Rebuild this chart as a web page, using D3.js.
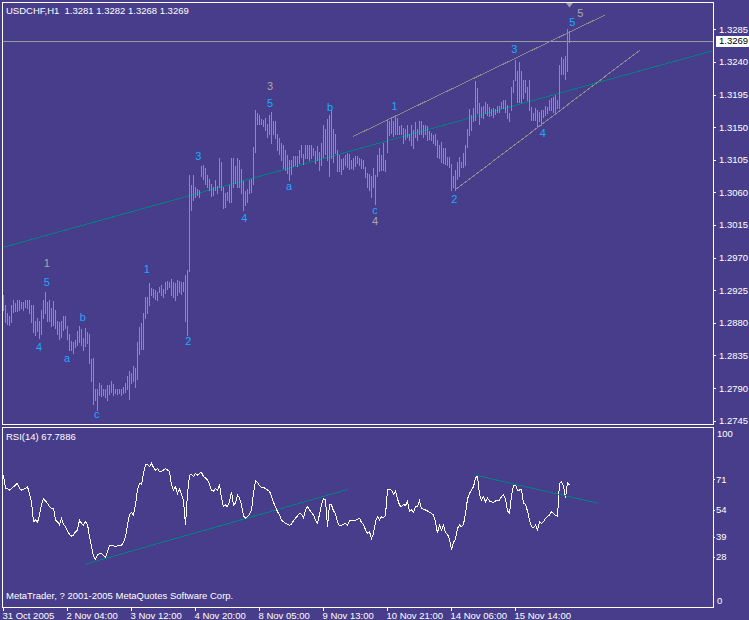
<!DOCTYPE html>
<html><head><meta charset="utf-8">
<script src="https://cdn.jsdelivr.net/npm/d3@7"></script>
<style>
html,body{margin:0;padding:0;background:#483D8B;overflow:hidden;}
svg{display:block;}
text{font-family:"Liberation Sans",Arial,sans-serif;}
</style></head><body>
<svg id="chart" width="749" height="620"></svg>
<script>
// ---------------- DATA ----------------
const chartTitle = "USDCHF,H1  1.3281 1.3282 1.3268 1.3269";
const rsiTitle = "RSI(14) 67.7886";
const copyright = "MetaTrader, ? 2001-2005 MetaQuotes Software Corp.";
const bidPrice = 1.3269;

const timeTickBars = [0, 32, 64, 96, 128, 160, 192, 224, 256];
const timeTickLabels = ["31 Oct 2005","2 Nov 04:00","3 Nov 12:00","4 Nov 20:00","8 Nov 05:00","9 Nov 13:00","10 Nov 21:00","14 Nov 06:00","15 Nov 14:00"];
const priceTicks = [1.3285,1.3240,1.3195,1.3150,1.3105,1.3060,1.3015,1.2970,1.2925,1.2880,1.2835,1.2790,1.2745];
const rsiTicks = [71, 54, 39, 28];
const rsiEndLabels = [100, 0];

const highs = [
1.2918,1.2905,1.2894,1.2890,1.2904,1.2911,1.2907,1.2912,1.2912,1.2909,
1.2908,1.2911,1.2912,1.2912,1.2904,1.2904,1.2882,1.2886,1.2882,1.2898,
1.2911,1.2923,1.2909,1.2911,1.2900,1.2910,1.2897,1.2883,1.2881,1.2883,
1.2889,1.2889,1.2875,1.2864,1.2855,1.2854,1.2856,1.2869,1.2875,1.2872,
1.2859,1.2873,1.2867,1.2864,1.2830,1.2831,1.2788,1.2788,1.2797,1.2794,
1.2789,1.2788,1.2794,1.2794,1.2799,1.2795,1.2788,1.2788,1.2788,1.2789,
1.2791,1.2797,1.2806,1.2813,1.2811,1.2820,1.2817,1.2854,1.2874,1.2880,
1.2894,1.2915,1.2915,1.2935,1.2928,1.2927,1.2925,1.2923,1.2930,1.2932,
1.2927,1.2936,1.2937,1.2936,1.2941,1.2936,1.2935,1.2939,1.2938,1.2936,
1.2936,1.2946,1.2953,
1.3084,1.3070,1.3084,1.3068,1.3065,1.3063,1.3096,1.3098,1.3094,1.3084,
1.3078,1.3072,1.3067,1.3077,1.3069,1.3107,1.3102,1.3068,1.3059,1.3060,
1.3070,1.3107,1.3107,1.3096,1.3107,1.3104,1.3092,1.3075,1.3062,1.3064,
1.3077,1.3079,1.3123,1.3174,1.3169,1.3167,1.3161,1.3160,1.3162,1.3155,
1.3167,1.3171,1.3158,1.3159,1.3141,1.3135,1.3128,1.3125,1.3118,1.3112,
1.3104,1.3105,1.3110,1.3110,1.3110,1.3118,1.3125,1.3113,1.3125,1.3125,
1.3125,1.3125,1.3121,1.3117,1.3124,1.3116,1.3128,1.3153,1.3148,1.3161,
1.3167,1.3173,1.3148,1.3141,1.3118,1.3112,1.3106,1.3108,1.3112,1.3114,
1.3113,1.3104,1.3107,1.3110,1.3110,1.3108,1.3106,1.3105,1.3095,1.3087,
1.3086,1.3082,1.3093,1.3084,1.3112,1.3121,1.3112,1.3128,1.3105,1.3161,
1.3158,1.3164,1.3158,1.3165,1.3162,1.3151,
1.3153,1.3149,1.3148,1.3153,1.3141,1.3153,1.3146,1.3157,1.3148,1.3158,
1.3158,1.3153,1.3153,1.3151,1.3144,1.3142,1.3139,1.3140,1.3132,1.3125,
1.3130,1.3121,1.3121,1.3109,1.3109,1.3099,1.3082,1.3091,1.3102,1.3109,
1.3102,1.3114,1.3125,1.3148,1.3175,1.3167,1.3176,1.3213,1.3204,1.3183,
1.3178,1.3179,1.3185,1.3182,1.3178,1.3175,1.3177,1.3175,1.3179,1.3179,
1.3185,1.3187,1.3187,1.3181,1.3170,1.3206,1.3215,1.3243,1.3227,1.3240,
1.3227,1.3215,1.3215,1.3206,1.3215,1.3178,1.3169,1.3176,1.3174,1.3171,
1.3174,1.3174,1.3179,1.3178,1.3187,1.3190,1.3192,1.3194,1.3187,1.3236,
1.3247,1.3244,1.3248,1.3285,1.3282
];
const lows = [
1.2897,1.2881,1.2878,1.2877,1.2881,1.2895,1.2896,1.2896,1.2898,1.2900,
1.2898,1.2902,1.2901,1.2893,1.2881,1.2867,1.2863,1.2869,1.2859,1.2865,
1.2886,1.2893,1.2883,1.2882,1.2875,1.2877,1.2873,1.2865,1.2858,1.2861,
1.2870,1.2873,1.2858,1.2842,1.2842,1.2838,1.2847,1.2849,1.2854,1.2849,
1.2842,1.2848,1.2852,1.2825,1.2800,1.2768,1.2774,1.2759,1.2780,1.2779,
1.2780,1.2778,1.2773,1.2782,1.2784,1.2781,1.2783,1.2782,1.2783,1.2781,
1.2783,1.2784,1.2789,1.2775,1.2797,1.2800,1.2791,1.2803,1.2837,1.2844,
1.2844,1.2886,1.2893,1.2904,1.2918,1.2916,1.2913,1.2912,1.2923,1.2918,
1.2916,1.2921,1.2926,1.2930,1.2918,1.2916,1.2911,1.2918,1.2923,1.2920,
1.2924,1.2882,1.2863,
1.2951,1.3035,1.3049,1.3054,1.3056,1.3054,1.3082,1.3078,1.3072,1.3068,
1.3063,1.3055,1.3056,1.3063,1.3059,1.3068,1.3063,1.3039,1.3040,1.3049,
1.3046,1.3047,1.3068,1.3073,1.3068,1.3067,1.3059,1.3035,1.3043,1.3047,
1.3059,1.3061,1.3071,1.3116,1.3155,1.3155,1.3154,1.3151,1.3146,1.3137,
1.3141,1.3128,1.3141,1.3135,1.3118,1.3113,1.3105,1.3093,1.3091,1.3087,
1.3077,1.3085,1.3096,1.3098,1.3096,1.3100,1.3109,1.3099,1.3107,1.3108,
1.3105,1.3108,1.3112,1.3101,1.3105,1.3091,1.3098,1.3109,1.3113,1.3105,
1.3082,1.3108,1.3102,1.3114,1.3089,1.3089,1.3085,1.3092,1.3098,1.3095,
1.3092,1.3093,1.3092,1.3096,1.3100,1.3098,1.3094,1.3094,1.3081,1.3067,
1.3063,1.3054,1.3067,1.3044,1.3082,1.3089,1.3091,1.3091,1.3090,1.3116,
1.3139,1.3142,1.3138,1.3141,1.3141,1.3140,
1.3141,1.3128,1.3134,1.3137,1.3132,1.3125,1.3121,1.3137,1.3132,1.3141,
1.3141,1.3137,1.3141,1.3132,1.3133,1.3132,1.3128,1.3125,1.3109,1.3107,
1.3102,1.3100,1.3099,1.3098,1.3095,1.3063,1.3068,1.3063,1.3079,1.3082,
1.3095,1.3095,1.3098,1.3122,1.3139,1.3146,1.3158,1.3160,1.3169,1.3155,
1.3164,1.3162,1.3169,1.3167,1.3165,1.3167,1.3164,1.3168,1.3171,1.3171,
1.3176,1.3176,1.3171,1.3162,1.3158,1.3174,1.3199,1.3215,1.3184,1.3184,
1.3185,1.3190,1.3199,1.3187,1.3174,1.3160,1.3160,1.3160,1.3151,1.3158,
1.3153,1.3164,1.3167,1.3169,1.3174,1.3174,1.3171,1.3169,1.3176,1.3176,
1.3224,1.3224,1.3217,1.3227,1.3268
];
const rsi = [
73.3,65.9,65.9,65,65.9,66.8,67.8,68.7,65.9,65,
65.5,65.9,66.8,63.1,58.5,47.4,48.3,47,51.1,57,
60,58.9,57.6,55.7,54.8,54.8,48.3,47.4,45.5,49.3,
45.9,44.6,42.2,40.4,39.4,40,41.8,42.8,48.3,46.5,
45.5,47.4,45.9,39.1,33.5,28.3,26.5,28.9,29.8,29.8,
28.5,27.4,31.1,34.1,34.4,34.1,33.5,34.1,34.1,34.4,
35.9,39.1,45.5,51.5,52.6,51.1,56.7,65.5,68.7,68.1,
74.2,78.9,79.3,78,79.8,77.4,76.1,77,75.2,75.5,
76.1,77,76.1,75.2,67.8,65,66.8,63.1,65.5,62.6,
58.9,45.5,63.1,73.3,73.7,72.4,74.2,73.3,74.2,74.8,
72.4,71.8,70.5,68.1,65,64.4,65.9,65,67.8,60.4,
55.7,56.7,55.7,58.5,64.1,56.7,57.6,62.2,60.7,56.7,
50.7,49.3,50.2,51.5,53.9,63.1,70,69.2,67.4,66.3,
66.3,65.9,65,64.4,61.3,58.1,55.7,53,51.1,48.3,
47.4,46.5,45.9,45.5,45.9,48.1,49.3,50.7,52,51.5,
49.6,53.9,55.7,53.9,52.6,51.1,48.3,46.5,51.5,56.7,
60.4,59.4,44.6,56.7,56.7,53.3,52,47,45.2,45.5,
45.9,46.5,45.5,47.8,47.8,48.3,48.3,48.7,49.3,47,
45.9,42.8,40.9,41.8,38.1,40.9,47.4,50.2,48.3,50.2,
49.6,51.1,65,65.5,64.8,62.6,64.4,60,56.7,55.7,
57,56.3,58.9,53.3,53.9,52.6,55.7,55.7,58.9,54.8,
54.3,53.9,53.3,52.6,52,51.1,47.4,40.9,45.5,42.8,
45.5,41.5,40.4,37.8,31.7,35.9,37.8,43.7,45.5,44.6,
45.9,52,60,63.1,65,66.8,71.5,73,62.2,59.4,
61.3,58.5,60.4,58.9,58.5,58.1,58.9,58.9,59.4,61.3,
62.2,60,53.3,52,62.2,67.4,67.8,65,65,65.5,
57.6,57,53.3,48.3,44.6,44.1,45.5,42.8,47.4,46.5,
47.4,49.3,50.2,51.1,53,52,50.7,50.5,68.7,69.6,
67.4,60.4,69.2,67.7886
];

// trend lines: [bar1, value1, bar2, value2]
const priceTrendTeal = [0, 1.29841, 283, 1.32005];
const priceChannelUpper = [175, 1.31370, 301, 1.33047];
const priceChannelLower = [226, 1.30632, 318.5, 1.32564];
const rsiTrendUp = [41, 23.7, 172.65, 65.4];
const rsiTrendDown = [236, 73.3, 297.65, 57.6];

// Elliott wave labels
const waveText   = ["1","5","4","a","b","c","1","2","3","4","5","3","a","b","c","4","1","2","3","4","5","5"];
const waveBar    = [21.85,21.85,18,32,39.85,46.85,71.85,92.65,97.65,120.65,133.5,133.5,143,163.5,186,186,195.75,225.65,255.65,269.85,284.65,288.65];
const wavePrice  = [1.29620,1.29367,1.28461,1.28310,1.28884,1.27541,1.29538,1.28548,1.31101,1.30241,1.31837,1.32071,1.30687,1.31773,1.30356,1.30208,1.31787,1.30504,1.32574,1.31423,1.32955,1.33071];
const waveDegree = ["major","minor","minor","minor","minor","minor","minor","minor","minor","minor","minor","major","minor","minor","minor","major","minor","minor","minor","minor","minor","major"];

const arrowBar = [283];
const arrowPrice = [1.3318];

// ---------------- DRAW ----------------
const BG = "#483D8B", BAR = "#32D232", TEAL = "#008080", GRAY = "#8a8a8a";
const CYAN = "#1AAAFF", SILVER = "#a9a9a9";
const svg = d3.select("#chart");
svg.append("rect").attr("width",749).attr("height",620).attr("fill",BG);

const x = d3.scaleLinear().domain([-0.5, 354.5]).range([2, 712]);
const yP = d3.scaleLinear().domain([1.2745, 1.3285]).range([420.6, 29.3]);
const yR = d3.scaleLinear().domain([0, 100]).range([607, 427]);

const defs = svg.append("defs");
defs.append("clipPath").attr("id","clipMain").append("rect").attr("x",3).attr("y",3).attr("width",710).attr("height",421);
defs.append("clipPath").attr("id","clipRsi").append("rect").attr("x",3).attr("y",428).attr("width",710).attr("height",179);

const main = svg.append("g").attr("clip-path","url(#clipMain)");

// bid line
main.append("line").attr("x1",2).attr("x2",713)
  .attr("y1",Math.round(yP(bidPrice))+0.5).attr("y2",Math.round(yP(bidPrice))+0.5)
  .attr("stroke","#8fa0a0").attr("stroke-width",1).attr("shape-rendering","crispEdges");

// trend lines
function extendLine(t, xs, scaleY){
  const s = (t[3]-t[1])/(t[2]-t[0]);
  return [x(xs[0]), scaleY(t[1]+s*(xs[0]-t[0])), x(xs[1]), scaleY(t[1]+s*(xs[1]-t[0]))];
}
function drawLine(g, c, color){
  g.append("line").attr("x1",c[0]).attr("y1",c[1]).attr("x2",c[2]).attr("y2",c[3])
   .attr("stroke",color).attr("stroke-width",1).attr("shape-rendering","crispEdges");
}
drawLine(main, extendLine(priceTrendTeal, x.domain(), yP), TEAL);

// bars
main.append("g").selectAll("line").data(highs).join("line")
  .attr("x1",(d,i)=>x(i)+0.5).attr("x2",(d,i)=>x(i)+0.5)
  .attr("y1",d=>Math.round(yP(d)))
  .attr("y2",(d,i)=>Math.round(yP(lows[i]))+1)
  .attr("stroke",BAR).attr("stroke-width",1).attr("shape-rendering","crispEdges");

drawLine(main, [x(priceChannelUpper[0]),yP(priceChannelUpper[1]),x(priceChannelUpper[2]),yP(priceChannelUpper[3])], GRAY);
drawLine(main, [x(priceChannelLower[0]),yP(priceChannelLower[1]),x(priceChannelLower[2]),yP(priceChannelLower[3])], GRAY);

// wave labels
main.append("g").selectAll("text").data(waveText).join("text")
  .attr("x",(d,i)=>x(waveBar[i])).attr("y",(d,i)=>yP(wavePrice[i]))
  .attr("text-anchor","middle").attr("dominant-baseline","central")
  .attr("font-size",11).attr("fill",(d,i)=>waveDegree[i]==="major"?SILVER:CYAN)
  .text(d=>d);

// arrow
main.append("g").selectAll("path").data(arrowBar).join("path")
  .attr("d",(d,i)=>{const cx=x(d)+0.5, cy=yP(arrowPrice[i]); return `M${cx-4},${cy-3}L${cx+4},${cy-3}L${cx},${cy+2}Z`;})
  .attr("fill","#a0a0a0");

// RSI panel
const rg = svg.append("g").attr("clip-path","url(#clipRsi)");
drawLine(rg, [x(rsiTrendUp[0]),yR(rsiTrendUp[1]),x(rsiTrendUp[2]),yR(rsiTrendUp[3])], TEAL);
rg.append("path").datum(rsi)
  .attr("d", d3.line().x((d,i)=>x(i)+0.5).y(d=>yR(d)))
  .attr("fill","none").attr("stroke","#ffffff").attr("stroke-width",1).attr("shape-rendering","crispEdges");
drawLine(rg, [x(rsiTrendDown[0]),yR(rsiTrendDown[1]),x(rsiTrendDown[2]),yR(rsiTrendDown[3])], TEAL);

// frames
svg.append("rect").attr("x",2.5).attr("y",2.5).attr("width",711).attr("height",422)
  .attr("fill","none").attr("stroke","#fff").attr("shape-rendering","crispEdges");
svg.append("rect").attr("x",2.5).attr("y",427.5).attr("width",711).attr("height",180)
  .attr("fill","none").attr("stroke","#fff").attr("shape-rendering","crispEdges");

// axes
function styleAxis(g){
  g.select(".domain").remove();
  g.selectAll(".tick line").attr("stroke","#fff").attr("shape-rendering","crispEdges");
  g.selectAll(".tick text").attr("fill","#fff").attr("font-size","9.5px")
    .attr("font-family","'Liberation Sans',Arial,sans-serif");
}
const pAxis = svg.append("g").attr("transform","translate(713,0)")
  .call(d3.axisRight(yP).tickValues(priceTicks).tickSize(3).tickPadding(3).tickFormat(d3.format(".4f")));
styleAxis(pAxis);

const rAxis = svg.append("g").attr("transform","translate(713,0)")
  .call(d3.axisRight(yR).tickValues(rsiTicks).tickSize(2).tickPadding(1).tickFormat(d3.format("d")));
styleAxis(rAxis);

svg.append("g").selectAll("text").data(rsiEndLabels).join("text")
  .attr("x",717).attr("y",d=>d===100? yR(d)+10 : yR(d)-3)
  .attr("fill","#fff").attr("font-size","9.5px").text(d=>d);

const tAxis = svg.append("g").attr("transform","translate(0,607)")
  .call(d3.axisBottom(x).tickValues(timeTickBars).tickSize(4).tickPadding(1)
    .tickFormat((d,i)=>timeTickLabels[i]));
styleAxis(tAxis);
tAxis.selectAll(".tick text").attr("text-anchor","start").attr("dx",-1);

// bid price label
const by = yP(bidPrice);
svg.append("rect").attr("x",716).attr("y",Math.round(by)-5).attr("width",33).attr("height",11).attr("fill","#fff");
svg.append("text").attr("x",719).attr("y",by).attr("dominant-baseline","central")
  .attr("font-size","9.5px").attr("fill","#000").text(d3.format(".4f")(bidPrice));

// titles
svg.append("text").attr("x",6).attr("y",14).attr("fill","#fff").attr("font-size","9.5px")
  .style("white-space","pre").text(chartTitle);
svg.append("text").attr("x",6).attr("y",440).attr("fill","#fff").attr("font-size","9.5px").text(rsiTitle);
svg.append("text").attr("x",6).attr("y",599).attr("fill","#fff").attr("font-size","9.5px").text(copyright);
</script>
</body></html>
